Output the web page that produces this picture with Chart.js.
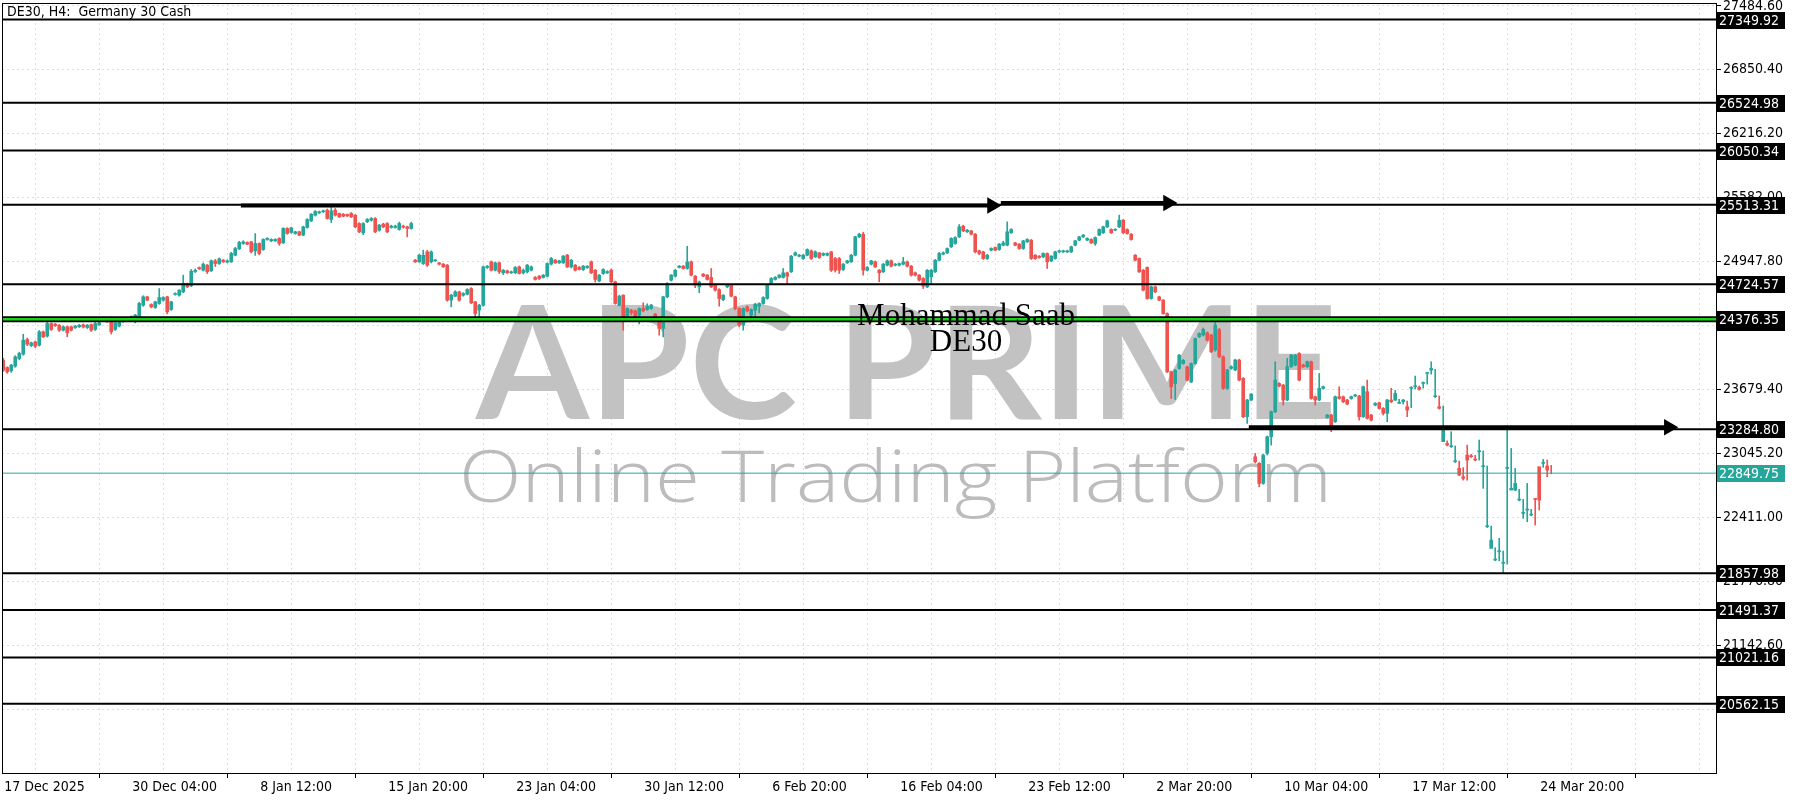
<!DOCTYPE html>
<html>
<head>
<meta charset="utf-8">
<title>DE30 H4</title>
<script src="https://cdn.jsdelivr.net/npm/chart.js@4/dist/chart.umd.min.js"></script>
<style>
  html, body { margin: 0; padding: 0; background: #fff; }
  canvas { display: block; }
</style>
</head>
<body>
<canvas id="chart" width="1800" height="800"></canvas>
<script>
// DE30, H4 candles (one entry per bar)
const opens = [
23970,23898,23865,23911,23987,24030,24175,24116,24152,24119,24252,24209,24334,24328,24317,24268,24301,24301,24294,24301,
24321,24294,24324,24275,24321,24394,24384,24384,24275,24308,24354,24367,24384,24390,24407,24516,24599,24523,24493,24533,
24566,24599,24473,24622,24615,24648,24724,24708,24850,24890,24863,24913,24857,24956,24929,24962,24943,24946,25012,25075,
25128,25138,25144,25055,25128,25068,25168,25154,25154,25178,25134,25277,25237,25227,25244,25211,25287,25353,25409,25432,
25442,25459,25366,25459,25426,25419,25416,25426,25409,25326,25234,25343,25359,25376,25260,25320,25326,25287,25287,25267,
25300,25293,25277,24962,24946,24929,25045,24946,24956,24936,24923,24913,24566,24605,24648,24615,24625,24681,24549,24467,
24516,24890,24946,24863,24936,24837,24857,24837,24837,24896,24837,24847,24863,24791,24804,24791,24804,24923,24962,24936,
24936,25012,24896,24913,24890,24870,24890,24946,24863,24757,24830,24837,24863,24748,24516,24615,24400,24467,24460,24417,
24483,24473,24483,24427,24384,24285,24599,24764,24804,24890,24903,24880,24946,24804,24698,24824,24814,24791,24714,24671,
24572,24698,24714,24599,24483,24318,24500,24417,24467,24506,24533,24582,24731,24771,24791,24791,24837,24847,25012,25002,
24979,25012,25055,24995,25035,25012,25012,25045,24979,24979,24870,24936,24946,25012,25194,25220,24863,24923,24946,24863,
24847,24913,24956,24913,24913,24923,24946,24903,24837,24814,24781,24698,24797,24847,24962,25022,25035,25095,25128,25194,
25300,25244,25253,25220,25055,25045,24979,25062,25088,25068,25111,25111,25234,25134,25121,25078,25144,25161,25012,25002,
24995,25029,24956,24979,25045,25045,25045,25045,25111,25161,25194,25161,25168,25128,25211,25234,25293,25267,25260,25293,
25359,25267,25220,25012,24979,24863,24890,24582,24698,24599,24566,24433,23855,23739,23888,23937,23904,23755,23937,24202,
24220,24243,24220,24071,24276,24005,23691,23889,23873,23972,23790,23410,23575,23013,22947,22748,23046,23211,23459,23740,
23724,23575,23906,23922,24038,23922,23906,23955,23608,23575,23691,23403,23426,23360,23608,23608,23575,23591,23615,23615,
23410,23658,23426,23525,23548,23492,23443,23575,23575,23542,23558,23509,23691,23707,23701,23740,23839,23873,23608,23509,
23162,23145,23112,22963,22897,22814,23029,23020,22986,23062,22914,22318,22103,21988,22070,21955,22897,22682,22682,22583,
22451,22484,22434,22599,22914,22947,22920
];
const highs = [
23990,23905,23930,24015,24050,24228,24190,24150,24160,24265,24260,24345,24340,24335,24325,24310,24310,24310,24315,24325,
24330,24325,24330,24345,24350,24400,24395,24400,24350,24385,24375,24395,24410,24425,24545,24610,24605,24530,24555,24681,
24600,24605,24555,24640,24670,24814,24735,24870,24875,24895,24935,24920,24965,24970,24985,24970,24965,25040,25090,25150,
25155,25145,25150,25227,25135,25175,25185,25175,25175,25185,25285,25285,25290,25250,25250,25300,25375,25425,25455,25450,
25460,25470,25492,25475,25430,25425,25420,25435,25415,25335,25335,25375,25385,25385,25318,25330,25335,25310,25310,25340,
25310,25300,25340,24970,25020,25062,25060,25055,24970,24940,24930,24920,24625,24660,24655,24640,24680,24690,24555,24525,
24905,24910,24955,24945,24945,24870,24865,24855,24900,24905,24875,24920,24905,24800,24810,24820,24936,24990,24970,24962,
25010,25020,24970,24920,24900,24910,24908,24955,24870,24820,24878,24858,24875,24755,24615,24620,24490,24475,24470,24490,
24540,24530,24525,24435,24390,24605,24740,24820,24870,24910,24910,25101,24955,24810,24755,24830,24820,24880,24720,24680,
24620,24720,24720,24605,24490,24490,24510,24480,24535,24540,24600,24720,24790,24800,24820,24880,24845,25010,25045,25020,
25020,25075,25065,25055,25040,25035,25035,25050,24990,24990,24930,24962,25020,25200,25230,25240,24900,24962,24955,24870,
24930,24965,24965,24930,24935,24990,24955,24910,24845,24820,24790,24870,24870,24970,25040,25045,25085,25185,25195,25316,
25310,25268,25260,25228,25062,25052,25020,25085,25095,25128,25150,25343,25275,25140,25128,25160,25175,25168,25018,25008,
25035,25035,25008,25052,25062,25062,25062,25102,25160,25200,25218,25185,25175,25194,25273,25300,25360,25274,25273,25409,
25366,25274,25227,25018,24985,24870,24896,24705,24705,24605,24572,24440,23862,23878,24027,23977,23911,23944,24192,24242,
24290,24250,24228,24369,24285,24012,23880,23915,23980,23980,23798,23582,23640,23046,22955,23036,23218,23466,23955,23748,
23730,23988,24028,24028,24045,23930,23962,23962,23615,23839,23714,23433,23433,23615,23707,23615,23582,23615,23632,23622,
23714,23773,23433,23550,23555,23500,23582,23691,23670,23582,23582,23565,23708,23813,23714,23754,23846,23955,23880,23615,
23516,23170,23261,23120,22970,22905,23128,23036,23027,23178,23070,22921,22325,22110,22203,22077,23290,23095,22897,22690,
22590,22748,22491,22596,22682,22986,22980,22927
];
const lows = [
23860,23840,23850,23900,23975,24020,24115,24105,24095,24110,24195,24200,24265,24305,24255,24260,24202,24260,24285,24295,
24290,24285,24255,24265,24315,24365,24345,24230,24265,24300,24345,24360,24375,24340,24400,24505,24560,24490,24485,24525,
24555,24430,24465,24615,24605,24640,24690,24700,24840,24870,24855,24830,24850,24900,24920,24940,24935,24940,25005,25068,
25120,25115,25035,25010,25015,25060,25160,25145,25148,25110,25128,25220,25230,25220,25205,25205,25280,25345,25400,25425,
25435,25370,25336,25400,25385,25392,25395,25385,25285,25235,25215,25335,25350,25235,25250,25285,25235,25280,25280,25260,
25280,25194,25270,24940,24940,24920,24900,24935,24950,24915,24890,24555,24500,24600,24555,24605,24618,24530,24400,24400,
24505,24880,24855,24855,24830,24820,24830,24830,24830,24825,24825,24835,24855,24765,24770,24785,24795,24915,24930,24930,
24930,24890,24885,24855,24865,24860,24880,24830,24745,24748,24822,24830,24740,24525,24508,24268,24390,24420,24395,24330,
24450,24465,24475,24385,24218,24202,24590,24755,24795,24885,24873,24873,24805,24690,24640,24798,24765,24690,24655,24506,
24560,24690,24598,24470,24300,24268,24450,24370,24400,24440,24525,24575,24725,24765,24785,24785,24720,24840,25005,24995,
24970,25005,24970,24990,24980,25005,25005,24850,24845,24830,24860,24930,24940,25005,25185,24814,24855,24915,24890,24748,
24840,24905,24895,24905,24905,24915,24895,24805,24805,24755,24681,24690,24720,24840,24955,25015,25028,25088,25120,25187,
25245,25237,25212,25035,25015,24970,24970,25055,25055,25060,25105,25105,25228,25105,25070,25070,25138,24970,24970,24982,
24988,24880,24948,24972,25038,25038,25038,25038,25105,25155,25187,25155,25128,25110,25205,25228,25286,25228,25254,25286,
25227,25220,25161,24955,24840,24658,24575,24575,24640,24560,24425,23848,23590,23580,23880,23930,23765,23748,23930,24195,
24210,24160,24045,24060,23995,23680,23680,23880,23865,23765,23400,23343,23568,22950,22715,22740,23030,23128,23450,23706,
23525,23568,23898,23915,23765,23898,23898,23583,23525,23568,23684,23396,23261,23352,23583,23550,23528,23583,23608,23376,
23403,23386,23368,23518,23485,23426,23360,23550,23568,23540,23535,23410,23500,23684,23674,23694,23733,23832,23600,23485,
23261,23120,23105,22955,22824,22781,22780,23005,22972,22979,22699,22310,22179,21980,21980,21858,21948,22692,22675,22575,
22401,22368,22427,22335,22484,22907,22814,22843
];
const closes = [
23871,23855,23921,24003,24037,24169,24129,24142,24109,24252,24202,24334,24275,24314,24268,24301,24242,24268,24308,24317,
24301,24317,24268,24334,24341,24374,24350,24252,24341,24374,24367,24384,24400,24417,24533,24599,24566,24500,24549,24592,
24592,24450,24549,24632,24665,24731,24698,24853,24863,24877,24923,24847,24956,24929,24976,24946,24956,25029,25078,25138,
25144,25121,25045,25128,25029,25168,25178,25168,25168,25128,25277,25227,25283,25244,25211,25293,25366,25419,25445,25442,
25452,25376,25452,25409,25392,25399,25402,25392,25293,25244,25326,25366,25376,25244,25310,25293,25244,25300,25300,25326,
25290,25277,25326,24946,25012,25012,24913,25045,24962,24923,24896,24566,24615,24648,24566,24632,24671,24539,24433,24516,
24896,24903,24863,24936,24847,24863,24837,24847,24890,24830,24863,24913,24896,24771,24781,24814,24929,24979,24936,24956,
25002,24896,24962,24863,24870,24903,24903,24837,24771,24814,24870,24850,24748,24533,24605,24384,24483,24440,24407,24483,
24460,24506,24516,24394,24285,24599,24731,24814,24863,24903,24880,24946,24814,24714,24747,24804,24771,24698,24665,24582,
24615,24714,24605,24483,24318,24483,24460,24473,24526,24533,24592,24714,24781,24791,24814,24837,24804,25002,25035,25012,
25012,25068,24979,25045,24989,25029,25029,24863,24863,24863,24923,24956,25012,25194,25220,24863,24890,24956,24896,24837,
24923,24956,24903,24923,24929,24946,24903,24814,24814,24764,24705,24863,24863,24962,25029,25035,25078,25178,25187,25293,
25253,25260,25220,25045,25029,24979,25012,25078,25062,25121,25134,25244,25267,25111,25078,25154,25168,24979,24979,24989,
25029,24946,25002,25045,25055,25055,25055,25095,25154,25194,25211,25178,25134,25187,25267,25293,25353,25234,25267,25359,
25234,25227,25168,24962,24847,24665,24582,24698,24648,24566,24433,23855,23706,23871,24020,23970,23772,23937,24185,24235,
24276,24170,24054,24319,24005,23691,23873,23906,23972,23773,23410,23575,23634,22963,22748,23029,23211,23459,23773,23714,
23575,23906,24021,24021,23773,23906,23955,23591,23575,23691,23707,23426,23327,23608,23591,23558,23535,23608,23624,23410,
23707,23393,23376,23542,23492,23443,23575,23558,23641,23548,23575,23476,23701,23707,23681,23747,23839,23889,23608,23492,
23277,23128,23112,22963,22831,22798,22980,23013,22980,23062,22914,22318,22186,21988,22070,21955,22897,22699,22748,22583,
22451,22484,22434,22589,22583,22953,22880,22850
];

// time axis: one label every 32 bars
const xLabels = ['17 Dec 2025', '30 Dec 04:00', '8 Jan 12:00', '15 Jan 20:00', '23 Jan 04:00', '30 Jan 12:00',
  '6 Feb 20:00', '16 Feb 04:00', '23 Feb 12:00', '2 Mar 20:00', '10 Mar 04:00', '17 Mar 12:00', '24 Mar 20:00'];
const barsPerLabel = 32;

// price axis ticks as printed by the terminal
const yTicks = [20508.40, 21142.60, 21776.80, 22411.00, 23045.20, 23679.40, 24313.60, 24947.80, 25582.00, 26216.20, 26850.40, 27484.60];
const priceMin = 19875.4;
const priceMax = 27513.6;

// horizontal levels drawn on the chart
const levels = [27349.92, 26524.98, 26050.34, 25513.31, 24724.57, 24376.35, 23284.80, 21857.98, 21491.37, 21021.16, 20562.15];
const greenLevel = 24376.35;
const lastPrice = 22849.75;

// arrows: start bar, end bar, price
const arrowFrom = [59.4, 249.4, 311.4];
const arrowTo = [247.2, 291.2, 416.4];
const arrowPrice = [25505, 25530, 23305];

const xMin = -0.31;
const xMax = 428.2;

const UP = '#26a69a';
const DOWN = '#ef5350';
const fontFamily = "'DejaVu Sans Condensed', 'Liberation Sans Narrow', sans-serif";
const axisFont = { family: fontFamily, size: 14 };

const candleColors = closes.map((c, i) => c >= opens[i] ? UP : DOWN);
const wickData = highs.map((h, i) => ({ x: i, y: [lows[i], h] }));
const bodyData = opens.map((o, i) => ({ x: i, y: [o, closes[i]] }));

const datasets = [];

// level lines
levels.forEach(v => {
  datasets.push({
    type: 'line',
    data: [{ x: xMin, y: v }, { x: xMax, y: v }],
    borderColor: '#000',
    borderWidth: v === greenLevel ? 6 : 2,
    pointRadius: 0,
    order: 1
  });
});
datasets.push({
  type: 'line',
  data: [{ x: xMin, y: greenLevel }, { x: xMax, y: greenLevel }],
  borderColor: '#19d219',
  borderWidth: 2.5,
  pointRadius: 0,
  order: 0
});
datasets.push({
  type: 'line',
  data: [{ x: xMin, y: lastPrice }, { x: xMax, y: lastPrice }],
  borderColor: UP,
  borderWidth: 1,
  pointRadius: 0,
  order: 1
});

// arrows
arrowFrom.forEach((a, i) => {
  datasets.push({
    type: 'line',
    data: [{ x: a, y: arrowPrice[i] }, { x: arrowTo[i], y: arrowPrice[i] }],
    borderColor: '#000',
    borderWidth: 4,
    pointRadius: [0, 9.5],
    pointStyle: 'triangle',
    rotation: 90,
    pointBackgroundColor: '#000',
    pointBorderWidth: 0,
    order: 0
  });
});

// candles
datasets.push({
  type: 'bar',
  data: bodyData,
  backgroundColor: candleColors,
  barThickness: 3,
  minBarLength: 1,
  grouped: false,
  order: 2
});
datasets.push({
  type: 'bar',
  data: wickData,
  backgroundColor: candleColors,
  barThickness: 1,
  minBarLength: 1,
  grouped: false,
  order: 3
});

// watermark, title and price tags
const decorations = {
  id: 'decorations',
  beforeDatasetsDraw(chart) {
    const c = chart.ctx;
    c.save();
    c.fillStyle = '#c2c2c2';
    c.textBaseline = 'alphabetic';
    c.font = "700 158px Lato, 'Open Sans', sans-serif";
    let w = c.measureText('APC PRIME').width;
    c.translate(476, 419);
    c.scale(861 / w, 1);
    c.fillText('APC PRIME', 0, 0);
    c.restore();

    c.save();
    c.fillStyle = '#bcbcbc';
    c.font = "300 72px 'Open Sans', Lato, sans-serif";
    w = c.measureText('Online Trading Platform').width;
    c.translate(459, 502);
    c.scale(873 / w, 1);
    c.fillText('Online Trading Platform', 0, 0);
    c.restore();
  },
  afterDatasetsDraw(chart) {
    const c = chart.ctx;
    const a = chart.chartArea;
    const ys = chart.scales.y;
    c.save();
    // frame
    c.strokeStyle = '#000';
    c.lineWidth = 1;
    c.strokeRect(a.left + 0.5, a.top + 0.5, a.right - a.left, a.bottom - a.top);

    // title
    c.fillStyle = '#000';
    c.font = '14px ' + fontFamily;
    c.textBaseline = 'middle';
    c.textAlign = 'left';
    c.fillText('DE30, H4:  Germany 30 Cash', 7, 12);

    // author text
    c.font = "31px 'Liberation Serif', 'Times New Roman', serif";
    c.textAlign = 'center';
    c.textBaseline = 'alphabetic';
    c.fillText('Mohammad Saab', 966, 325);
    c.fillText('DE30', 966, 351);

    // price tags on the axis
    c.font = '14px ' + fontFamily;
    c.textAlign = 'left';
    c.textBaseline = 'middle';
    const tag = (v, bg) => {
      const y = Math.round(ys.getPixelForValue(v));
      const h = v === greenLevel ? 20 : 17;
      c.fillStyle = bg;
      c.fillRect(a.right + 1, y - 8, 68, h);
      c.fillStyle = '#fff';
      c.fillText(v.toFixed(2), a.right + 3, y + 1);
    };
    levels.forEach(v => tag(v, '#000'));
    tag(lastPrice, UP);
    c.restore();
  }
};

new Chart(document.getElementById('chart'), {
  type: 'bar',
  data: { datasets },
  options: {
    responsive: false,
    animation: false,
    events: [],
    layout: { padding: { left: 2, top: 3, right: 0, bottom: 0 }, autoPadding: false },
    plugins: { legend: { display: false }, tooltip: { enabled: false } },
    scales: {
      x: {
        type: 'linear',
        min: xMin,
        max: xMax,
        offset: false,
        afterBuildTicks: scale => {
          const t = [];
          for (let v = 0; v <= xMax; v += barsPerLabel / 2) t.push({ value: v });
          scale.ticks = t;
        },
        afterFit: scale => {
          scale.height = 27;
          scale.paddingLeft = 0;
          scale.paddingRight = 0;
        },
        grid: {
          color: 'rgba(0,0,0,0.13)',
          lineWidth: 1,
          tickLength: 5,
          tickColor: c => (c.tick && c.tick.value % barsPerLabel === 0) ? '#000' : 'rgba(0,0,0,0)'
        },
        border: { display: true, color: '#000', width: 1, dash: [2, 3] },
        ticks: {
          autoSkip: false,
          maxRotation: 0,
          align: 'start',
          padding: 1,
          labelOffset: 1,
          color: '#000',
          font: axisFont,
          callback: v => v % barsPerLabel === 0 ? (xLabels[v / barsPerLabel] || '') : ''
        }
      },
      y: {
        type: 'linear',
        position: 'right',
        min: priceMin,
        max: priceMax,
        bounds: 'data',
        afterBuildTicks: scale => { scale.ticks = yTicks.map(v => ({ value: v })); },
        afterFit: scale => {
          scale.width = 84;
          scale.paddingTop = 0;
          scale.paddingBottom = 0;
        },
        grid: { color: 'rgba(0,0,0,0.13)', lineWidth: 1, tickLength: 5, tickColor: '#000' },
        border: { display: true, color: '#000', width: 1, dash: [2, 3] },
        ticks: {
          autoSkip: false,
          padding: 2,
          color: '#000',
          font: axisFont,
          callback: v => v.toFixed(2)
        }
      }
    }
  },
  plugins: [decorations]
});
</script>
</body>
</html>
